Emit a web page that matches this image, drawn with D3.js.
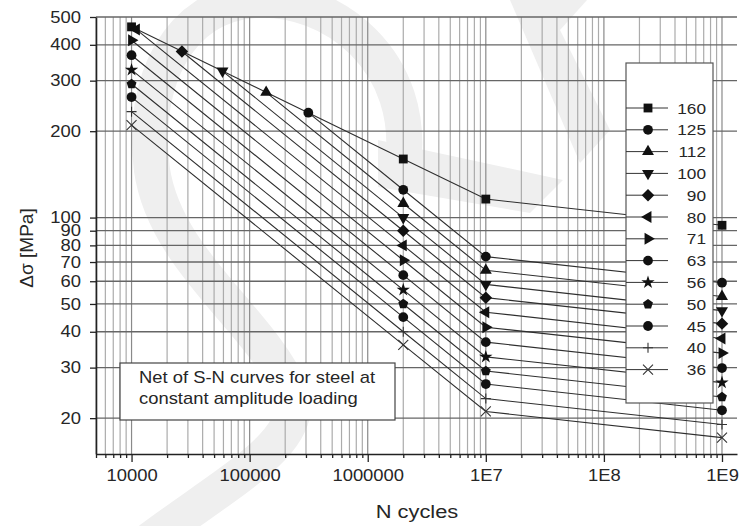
<!DOCTYPE html>
<html>
<head>
<meta charset="utf-8">
<script src="https://cdn.jsdelivr.net/npm/d3@7"></script>
<style>
    body { margin: 0; background: #fff; }
    svg text { font-family: "Liberation Sans", Arial, sans-serif; fill: #262626; }
</style>
</head>
<body>
<svg id="chart" width="743" height="526"></svg>
<script>
// detail categories (FAT classes), one curve each
const categories = ["160", "125", "112", "100", "90", "80", "71", "63", "56", "50", "45", "40", "36"];

// first point of every curve (cycles, stress range in MPa)
const nStart = [10000, 314000, 138000, 58900, 26700, 11000, 10000, 10000, 10000, 10000, 10000, 10000, 10000];
const sStart = [462, 232, 273, 324, 379, 452, 415, 368, 327, 292, 263, 234, 210];

// later points: at 2E6, 1E7 and 1E9 cycles
const nKnots = [2e6, 1e7, 1e9];
const sAt2e6 = [160, 125, 112, 100, 90, 80, 71, 63, 56, 50, 45, 40, 36];
const sAt1e7 = [116, 73.1, 65.5, 58.5, 52.6, 46.8, 41.5, 36.8, 32.7, 29.2, 26.3, 23.4, 21.1];
const sAt1e9 = [94, 59.3, 53.1, 47.4, 42.7, 37.9, 33.7, 29.9, 26.6, 23.7, 21.3, 19.0, 17.1];

// axis ticks
const yTickValues = [500, 400, 300, 200, 100, 90, 80, 70, 60, 50, 40, 30, 20];
const xTickValues = [1e4, 1e5, 1e6, 1e7, 1e8, 1e9];
const xTickLabels = ["10000", "100000", "1000000", "1E7", "1E8", "1E9"];

// marker kind for each curve
const markers = ["square", "circle", "triUp", "triDown", "diamond", "triLeft", "triRight",
    "circle", "star", "pentagon", "circle", "plus", "cross"];

const svg = d3.select("#chart");
const stretch = "scale(1.15,1)";

let x = d3.scaleLog().domain([5000, 1.34e9]).range([96, 737]);
let y = d3.scaleLog().domain([15, 500]).range([454, 17]);

// faint watermark behind everything
let wm = svg.append("g").attr("class", "watermark");
wm.append("path")
    .attr("d", "M402,172 C420,60 330,-5 255,0 C180,5 140,80 152,170 C165,260 260,320 290,390 C310,440 230,480 150,540")
    .attr("fill", "none")
    .attr("stroke", "#efefef")
    .attr("stroke-width", 36);
wm.append("path")
    .attr("d", "M510,0 L587,0 L560,30 L610,130 L580,163 Z")
    .attr("fill", "#efefef");
wm.append("path")
    .attr("d", "M378,140 L563,180 L530,213 L378,187 Z")
    .attr("fill", "#efefef");

// grid
let xGrid = x.ticks().filter(d => d >= 5000 && d <= 1.34e9);
let isDecade = d => Math.abs(Math.log10(d) - Math.round(Math.log10(d))) < 1e-9;

svg.append("g").selectAll("line")
    .data(xGrid)
    .enter().append("line")
    .attr("x1", d => x(d)).attr("x2", d => x(d))
    .attr("y1", y(500)).attr("y2", y(15))
    .attr("stroke", d => isDecade(d) ? "#8a8a8a" : "#ababab")
    .attr("stroke-width", 1.2);

svg.append("g").selectAll("line")
    .data(yTickValues)
    .enter().append("line")
    .attr("x1", x(5000)).attr("x2", x(1.34e9))
    .attr("y1", d => y(d)).attr("y2", d => y(d))
    .attr("stroke", "#666")
    .attr("stroke-width", 1.3);

// axes
let xAxis = d3.axisBottom(x)
    .tickValues(xTickValues)
    .tickFormat((d, i) => xTickLabels[i])
    .tickSize(8)
    .tickSizeOuter(0)
    .tickPadding(8);
let xAxisG = svg.append("g")
    .attr("transform", "translate(0," + y(15) + ")")
    .call(xAxis);
xAxisG.selectAll("text").attr("font-size", 16).attr("transform", stretch);

let xMinor = d3.axisBottom(x)
    .tickValues(xGrid.filter(d => !isDecade(d)))
    .tickFormat("")
    .tickSize(4)
    .tickSizeOuter(0);
svg.append("g")
    .attr("transform", "translate(0," + y(15) + ")")
    .call(xMinor)
    .select(".domain").remove();

let yAxis = d3.axisLeft(y)
    .tickValues(yTickValues)
    .tickFormat(d3.format("d"))
    .tickSize(6)
    .tickSizeOuter(0)
    .tickPadding(7);
let yAxisG = svg.append("g")
    .attr("transform", "translate(" + x(5000) + ",0)")
    .call(yAxis);
yAxisG.selectAll("text").attr("font-size", 16).attr("transform", stretch);

svg.selectAll(".domain").attr("stroke", "#222").attr("stroke-width", 1.6);
svg.selectAll(".tick line").attr("stroke", "#222").attr("stroke-width", 1.3);
svg.selectAll(".tick text").attr("fill", "#2a2a2a");

// axis titles
svg.append("text")
    .attr("transform", "translate(417,518) " + stretch)
    .attr("text-anchor", "middle")
    .attr("font-size", 19)
    .text("N cycles");
svg.append("text")
    .attr("transform", "translate(33,248) rotate(-90)")
    .attr("text-anchor", "middle")
    .attr("font-size", 19)
    .text("Δσ [MPa]");

// marker shapes
function markerPath(kind) {
    switch (kind) {
        case "square":
        case "diamond":
            return d3.symbol(d3.symbolSquare, 78)();
        case "circle":
            return d3.symbol(d3.symbolCircle, 75)();
        case "triUp":
        case "triDown":
        case "triLeft":
        case "triRight":
            return d3.symbol(d3.symbolTriangle, 62)();
        case "star":
            return d3.symbol(d3.symbolStar, 55)();
        case "pentagon":
            return d3.line()(d3.range(5).map(k => {
                let a = -Math.PI / 2 + k * 2 * Math.PI / 5;
                return [5.2 * Math.cos(a), 5.2 * Math.sin(a)];
            })) + "Z";
        case "plus":
            return "M-5,0H5M0,-5V5";
        case "cross":
            return "M-5,-5L5,5M-5,5L5,-5";
    }
}
function markerRotation(kind) {
    if (kind == "triDown") return 180;
    if (kind == "triLeft") return -90;
    if (kind == "triRight") return 90;
    if (kind == "diamond") return 45;
    return 0;
}
function drawMarker(g, kind, px, py) {
    let stroked = (kind == "plus" || kind == "cross");
    g.append("path")
        .attr("d", markerPath(kind))
        .attr("transform", "translate(" + px + "," + py + ") rotate(" + markerRotation(kind) + ")")
        .attr("fill", stroked ? "none" : "#111")
        .attr("stroke", stroked ? "#333" : "none")
        .attr("stroke-width", 1.1);
}

// curves
let series = categories.map((c, i) => ({
    name: c,
    marker: markers[i],
    points: [[nStart[i], sStart[i]], [nKnots[0], sAt2e6[i]], [nKnots[1], sAt1e7[i]], [nKnots[2], sAt1e9[i]]]
}));

let line = d3.line().x(d => x(d[0])).y(d => y(d[1]));

svg.append("g").selectAll("path")
    .data(series)
    .enter().append("path")
    .attr("d", d => line(d.points))
    .attr("fill", "none")
    .attr("stroke", "#2e2e2e")
    .attr("stroke-width", 1.1);

let markerG = svg.append("g");
series.forEach(s => {
    s.points.forEach(p => drawMarker(markerG, s.marker, x(p[0]), y(p[1])));
});

// note box
let note = svg.append("g");
note.append("rect")
    .attr("x", 120).attr("y", 363)
    .attr("width", 275).attr("height", 57)
    .attr("fill", "#fff")
    .attr("stroke", "#444")
    .attr("stroke-width", 1.2);
note.append("text")
    .attr("transform", "translate(139,383) " + stretch)
    .attr("font-size", 16)
    .text("Net of S-N curves for steel at");
note.append("text")
    .attr("transform", "translate(139,404) " + stretch)
    .attr("font-size", 16)
    .text("constant amplitude loading");

// legend
let legend = svg.append("g");
legend.append("rect")
    .attr("x", 626).attr("y", 63)
    .attr("width", 87).attr("height", 340)
    .attr("fill", "#fff")
    .attr("stroke", "#555")
    .attr("stroke-width", 1.2);
series.forEach((s, i) => {
    let ly = 108 + i * 21.8;
    legend.append("line")
        .attr("x1", 626).attr("x2", 668)
        .attr("y1", ly).attr("y2", ly)
        .attr("stroke", "#333").attr("stroke-width", 1);
    drawMarker(legend, s.marker, 648, ly);
    legend.append("text")
        .attr("transform", "translate(706," + (ly + 5.5) + ") " + stretch)
        .attr("text-anchor", "end")
        .attr("font-size", 15)
        .text(s.name);
});
</script>
</body>
</html>
